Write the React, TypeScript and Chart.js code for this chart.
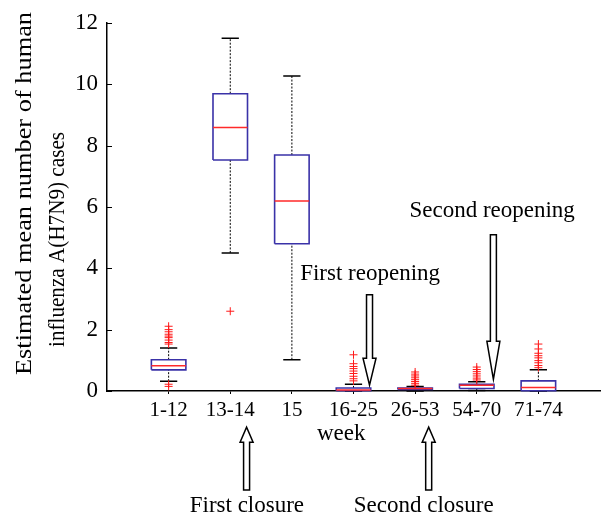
import React, { useEffect, useRef } from 'react';
import Chart from 'chart.js/auto';

const categories = ['1-12', '13-14', '15', '16-25', '26-53', '54-70', '71-74'];
const whiskerLow = [0.32, 4.5, 1.02, 0, 0, 0.02, 0];
const q1 = [0.69, 7.53, 4.8, 0.01, 0.05, 0.08, 0.01];
const median = [0.82, 8.59, 6.19, 0.03, 0.08, 0.19, 0.11];
const q3 = [1.02, 9.69, 7.69, 0.1, 0.1, 0.22, 0.33];
const whiskerHigh = [1.4, 11.5, 10.27, 0.22, 0.15, 0.3, 0.69];
const outliers = [
  [2.11, 2.0, 1.93, 1.85, 1.79, 1.74, 1.66, 1.58, 1.53, 0.22, 0.15],
  [2.6],
  [],
  [1.18, 0.89, 0.8, 0.73, 0.65, 0.57, 0.48, 0.4, 0.33],
  [0.62, 0.55, 0.49, 0.43, 0.37, 0.31, 0.25, 0.19],
  [0.78, 0.7, 0.63, 0.56, 0.49, 0.42, 0.36],
  [1.53, 1.37, 1.23, 1.15, 1.08, 0.99, 0.92, 0.83, 0.76],
];
const yTicks = [0, 2, 4, 6, 8, 10, 12];

const yTitle = ['Estimated mean number of human', 'influenza A(H7N9) cases'];
const xTitle = 'week';
const xTitlePos = { x: 3.8, y: -1.41 };

const arrowLabels = ['First closure', 'Second closure', 'First reopening', 'Second reopening'];
const arrowX = [2.265, 5.22, 4.26, 6.27];
const arrowTail = [-3.23, -3.23, 3.14, 5.09];
const arrowTip = [-1.18, -1.18, 0.19, 0.38];
const labelX = [2.27, 5.14, 4.27, 6.25];
const labelY = [-3.74, -3.74, 3.81, 5.86];
const headLen = [15, 15, 27, 38];

const FONT = '"Liberation Serif", "Times New Roman", serif';
const BOX_HALF = 0.28;
const CAP_HALF = 0.14;

type P = { x: number; y: number | null };

function buildBoxes(): P[] {
  const d: P[] = [];
  categories.forEach((_, i) => {
    const x = i + 1;
    d.push({ x: x - BOX_HALF, y: q1[i] }, { x: x + BOX_HALF, y: q1[i] }, { x: x + BOX_HALF, y: q3[i] },
      { x: x - BOX_HALF, y: q3[i] }, { x: x - BOX_HALF, y: q1[i] }, { x, y: null });
  });
  return d;
}
function buildMedians(): P[] {
  const d: P[] = [];
  categories.forEach((_, i) => {
    const x = i + 1;
    d.push({ x: x - BOX_HALF, y: median[i] }, { x: x + BOX_HALF, y: median[i] }, { x, y: null });
  });
  return d;
}
function buildWhiskers(): P[] {
  const d: P[] = [];
  categories.forEach((_, i) => {
    const x = i + 1;
    d.push({ x, y: q3[i] }, { x, y: whiskerHigh[i] }, { x, y: null });
    d.push({ x, y: whiskerLow[i] }, { x, y: q1[i] }, { x, y: null });
  });
  return d;
}
function buildCaps(): P[] {
  const d: P[] = [];
  categories.forEach((_, i) => {
    const x = i + 1;
    d.push({ x: x - CAP_HALF, y: whiskerHigh[i] }, { x: x + CAP_HALF, y: whiskerHigh[i] }, { x, y: null });
    if (whiskerLow[i] < q1[i]) {
      d.push({ x: x - CAP_HALF, y: whiskerLow[i] }, { x: x + CAP_HALF, y: whiskerLow[i] }, { x, y: null });
    }
  });
  return d;
}
function buildOutliers(): P[] {
  const d: P[] = [];
  outliers.forEach((arr, i) => arr.forEach((v) => d.push({ x: i + 1, y: v })));
  return d;
}

const overlay = {
  id: 'overlay',
  afterDraw(chart: any) {
    const { ctx, chartArea, scales } = chart;
    const xs = scales.x;
    const ys = scales.y;
    ctx.save();
    // inward y ticks
    ctx.strokeStyle = '#000';
    ctx.lineWidth = 1;
    yTicks.forEach((v) => {
      const py = Math.round(ys.getPixelForValue(v)) + 0.5;
      ctx.beginPath();
      ctx.moveTo(chartArea.left, py);
      ctx.lineTo(chartArea.left + 5, py);
      ctx.stroke();
    });
    // arrows
    arrowX.forEach((ax, i) => {
      const px = xs.getPixelForValue(ax);
      const tip = ys.getPixelForValue(arrowTip[i]);
      const tail = ys.getPixelForValue(arrowTail[i]);
      const dir = tail > tip ? 1 : -1;
      const hb = tip + dir * headLen[i];
      const sw = 3;
      const hw = 6.5;
      ctx.beginPath();
      ctx.moveTo(px - sw, tail);
      ctx.lineTo(px - sw, hb);
      ctx.lineTo(px - hw, hb);
      ctx.lineTo(px, tip);
      ctx.lineTo(px + hw, hb);
      ctx.lineTo(px + sw, hb);
      ctx.lineTo(px + sw, tail);
      ctx.closePath();
      ctx.fillStyle = '#fff';
      ctx.fill();
      ctx.lineWidth = 1.5;
      ctx.strokeStyle = '#000';
      ctx.stroke();
    });
    // labels
    ctx.fillStyle = '#000';
    ctx.textAlign = 'center';
    ctx.textBaseline = 'middle';
    ctx.font = `23px ${FONT}`;
    arrowLabels.forEach((t, i) => {
      ctx.fillText(t, xs.getPixelForValue(labelX[i]), ys.getPixelForValue(labelY[i]));
    });
    ctx.fillText(xTitle, xs.getPixelForValue(xTitlePos.x), ys.getPixelForValue(xTitlePos.y));
    // y title (two lines, fitted to reference extents)
    ctx.font = `23px ${FONT}`;
    const offs = [25, 58];
    const centers = [193.5, 239.5];
    const lengths = [363, 215];
    yTitle.forEach((t, i) => {
      const w = ctx.measureText(t).width;
      ctx.save();
      ctx.translate(offs[i], centers[i]);
      ctx.rotate(-Math.PI / 2);
      ctx.scale(lengths[i] / w, 1);
      ctx.fillText(t, 0, 0);
      ctx.restore();
    });
    ctx.restore();
  },
};

export default function App() {
  const ref = useRef<HTMLCanvasElement>(null);
  useEffect(() => {
    if (!ref.current) return;
    const lineBase = {
      type: 'line' as const,
      pointRadius: 0,
      pointHoverRadius: 0,
      tension: 0,
      spanGaps: false,
      fill: false,
      borderWidth: 1,
      clip: false as any,
    };
    const chart = new Chart(ref.current, {
      type: 'line',
      data: {
        datasets: [
          {
            type: 'scatter',
            label: 'outliers',
            data: buildOutliers() as any,
            pointStyle: 'cross',
            pointRadius: 4,
            pointBorderWidth: 1,
            borderColor: '#ff1a1a',
            backgroundColor: '#ff1a1a',
            showLine: false,
            order: 0,
          } as any,
          { ...lineBase, label: 'median', data: buildMedians() as any, borderColor: '#ff2a2a', borderWidth: 1.5, order: 1 },
          { ...lineBase, label: 'box', data: buildBoxes() as any, borderColor: '#3a32a8', borderWidth: 1.6, order: 2 },
          { ...lineBase, label: 'caps', data: buildCaps() as any, borderColor: '#000', borderWidth: 1.5, order: 3 },
          { ...lineBase, label: 'whiskers', data: buildWhiskers() as any, borderColor: '#000', borderDash: [2, 1.5], order: 4 },
        ],
      },
      options: {
        responsive: false,
        animation: false,
        devicePixelRatio: 1,
        layout: { padding: { top: 16, right: 0, left: 0, bottom: 0 } },
        plugins: { legend: { display: false }, tooltip: { enabled: false }, title: { display: false } },
        events: [],
        scales: {
          x: {
            type: 'linear',
            min: 0,
            max: 8,
            afterFit: (s: any) => { s.height = 131; },
            ticks: {
              stepSize: 1,
              autoSkip: false,
              maxRotation: 0,
              padding: 4,
              color: '#000',
              font: { family: FONT, size: 21 },
              callback: (v: any) => categories[Number(v) - 1] ?? '',
            },
            grid: {
              display: true,
              drawOnChartArea: false,
              drawTicks: true,
              tickLength: 3,
              color: (c: any) => (c.tick && c.tick.value >= 1 && c.tick.value <= categories.length ? '#000' : 'rgba(0,0,0,0)'),
            },
            border: { display: true, color: '#000', width: 1.5 },
          },
          y: {
            type: 'linear',
            min: 0,
            max: 12,
            afterFit: (s: any) => { s.width = 107; },
            ticks: {
              stepSize: 2,
              padding: 9,
              color: '#000',
              font: { family: FONT, size: 23 },
            },
            grid: { display: false, drawTicks: false },
            border: { display: true, color: '#000', width: 1.5 },
          },
        },
      },
      plugins: [overlay],
    });
    return () => chart.destroy();
  }, []);
  return (
    <div style={{ position: 'fixed', left: 0, top: 0, width: 605, height: 522, background: '#fff' }}>
      <canvas ref={ref} width={605} height={522} style={{ display: 'block' }} />
    </div>
  );
}
